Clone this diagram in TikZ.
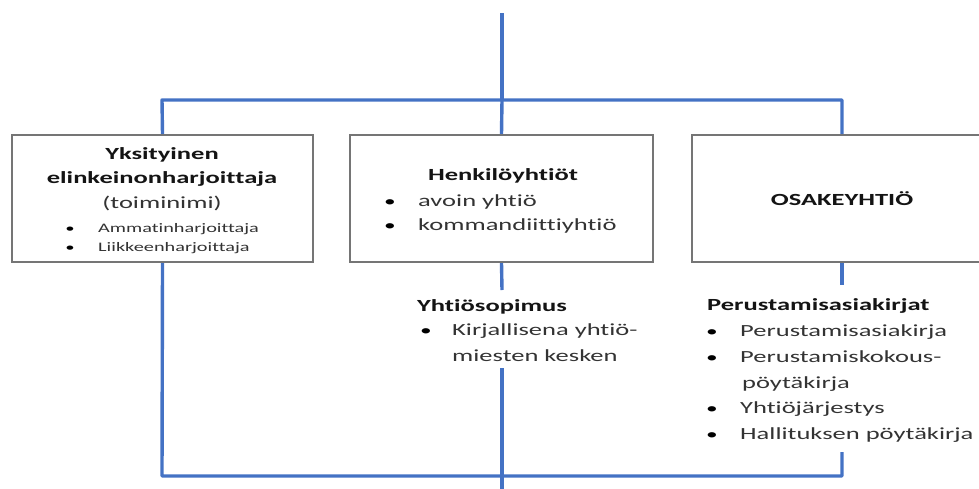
\documentclass[tikz,border=0pt]{standalone}
\usepackage{fontspec}
\setmainfont{Carlito}[FakeStretch=1.56,Ligatures={NoCommon}]
\definecolor{linkblue}{HTML}{4472C4}
\definecolor{boxgray}{HTML}{757575}
\definecolor{bodytext}{HTML}{333333}
\begin{document}
\begin{tikzpicture}[x=1pt,y=-1pt,
  conn/.style={draw=linkblue,line width=3.4pt},
  orgbox/.style={draw=boxgray,line width=2.2pt,fill=white,inner sep=0pt},
  ttl/.style={inner sep=0pt,anchor=base,font=\fontsize{17}{20}\selectfont\bfseries,text=black!92},
  ttlw/.style={inner sep=0pt,anchor=base west,font=\fontsize{17}{20}\selectfont\bfseries,text=black!92},
  body/.style={inner sep=0pt,anchor=base west,font=\fontsize{17}{20}\selectfont,text=bodytext},
  small/.style={inner sep=0pt,anchor=base west,font=\fontsize{13}{16}\selectfont,text=bodytext},
  bul/.style={inner sep=0pt,anchor=base,font=\fontsize{15}{20}\selectfont,text=black},
  sbul/.style={inner sep=0pt,anchor=base,font=\fontsize{12}{16}\selectfont,text=black}]
\useasboundingbox (0,0) rectangle (979,488);
\clip (0,0) rectangle (979,488);

% coordinates of the connector grid
\coordinate (top) at (502,13);
\coordinate (hub) at (502,100);
\coordinate (hl) at (162,100);
\coordinate (hr) at (842,100);
\coordinate (bl) at (162,476);
\coordinate (br) at (842,476);
\coordinate (mgapa) at (502,290);
\coordinate (mgapb) at (502,368);
\coordinate (mend) at (502,490);
\coordinate (rgapa) at (842,285);
\coordinate (rgapb) at (842,452);

% boxes
\node[orgbox,minimum width=301pt,minimum height=127pt] (L) at (162.5,198.5) {};
\node[orgbox,minimum width=303pt,minimum height=127pt] (M) at (501.5,198.5) {};
\node[orgbox,minimum width=300pt,minimum height=127pt] (R) at (842,198.5) {};

% connectors
\draw[conn] (top) -- (hub);
\draw[conn,line join=round] (L.north) -- (hl) -- (hr) -- (R.north);
\draw[conn] (hub) -- (M.north);
\draw[conn,line join=round] (L.south) -- (bl) -- (br) -- (rgapb);
\draw[conn] (R.south) -- (rgapa);
\draw[conn] (M.south) -- (mgapa);
\draw[conn] (mgapb) -- (mend);

% left box text
\node[ttl] (l1) at (162,159) {Yksityinen};
\node[ttl] (l2) at (162,183) {elinkeinonharjoittaja};
\node[body,anchor=base] (l3) at (162,208) {(toiminimi)};
\node[sbul] (lb1) at (70,232) {•};
\node[small] (l4) at (98,232) {Ammatinharjoittaja};
\node[sbul] (lb2) at (70,251) {•};
\node[small] (l5) at (98,251) {Liikkeenharjoittaja};

% middle box text
\node[ttl] (m1) at (503,180) {Henkilöyhtiöt};
\node[bul] (mb1) at (390,206) {•};
\node[body] (m2) at (418,206) {avoin yhtiö};
\node[bul] (mb2) at (390,230) {•};
\node[body] (m3) at (418,230) {kommandiittiyhtiö};

% right box text
\node[ttl] (r1) at (842,205) {OSAKEYHTIÖ};

% middle lower text
\node[ttlw] (y1) at (417,311) {Yhtiösopimus};
\node[bul] (yb1) at (426,335) {•};
\node[body] (y2) at (452,335) {Kirjallisena yhtiö-};
\node[body] (y3) at (452,361) {miesten kesken};

% right lower text
\node[ttlw] (p0) at (707,310) {Perustamisasiakirjat};
\node[bul] (pb1) at (712,336) {•};
\node[body] (p1) at (740,336) {Perustamisasiakirja};
\node[bul] (pb2) at (712,362) {•};
\node[body] (p2) at (740,362) {Perustamiskokous-};
\node[body] (p3) at (742,388) {pöytäkirja};
\node[bul] (pb3) at (712,413) {•};
\node[body] (p4) at (740,413) {Yhtiöjärjestys};
\node[bul] (pb4) at (712,439) {•};
\node[body] (p5) at (740,439) {Hallituksen pöytäkirja};
\end{tikzpicture}
\end{document}
